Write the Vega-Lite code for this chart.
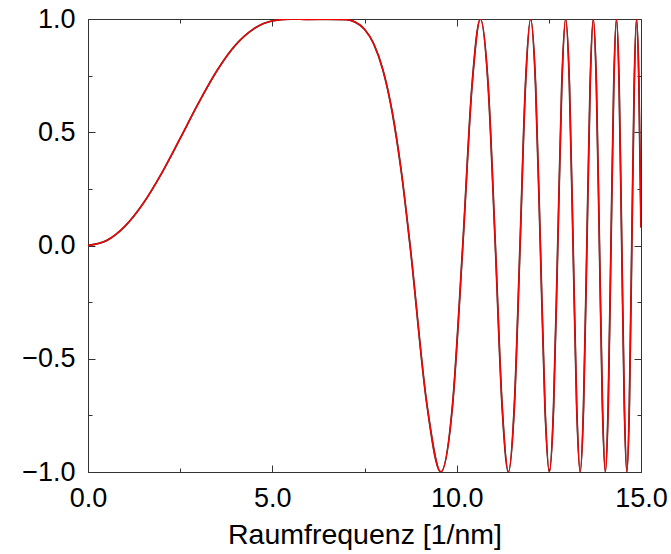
{
  "$schema": "https://vega.github.io/schema/vega-lite/v6.json",
  "width": 553,
  "height": 453,
  "autosize": {"type": "none"},
  "padding": {"left": 88, "top": 19, "right": 30, "bottom": 82},
  "background": "white",
  "config": {
    "view": {"stroke": null},
    "font": "Liberation Sans",
    "axis": {
      "grid": false,
      "domainColor": "#333333",
      "domainWidth": 1,
      "tickColor": "#333333",
      "tickWidth": 1,
      "labelFont": "Liberation Sans",
      "labelFontSize": 27,
      "labelColor": "black",
      "labelOverlap": false,
      "labelFlush": false,
      "labelBound": false,
      "titleFont": "Liberation Sans",
      "titleFontSize": 28.5,
      "titleFontWeight": "normal",
      "titleColor": "black"
    }
  },
  "data": {
    "values": [
      {"k": 0, "ctf": 0},
      {"k": 0.5, "ctf": 0.0214},
      {"k": 1, "ctf": 0.0846},
      {"k": 1.5, "ctf": 0.1863},
      {"k": 2, "ctf": 0.3196},
      {"k": 2.5, "ctf": 0.4728},
      {"k": 3, "ctf": 0.6296},
      {"k": 3.5, "ctf": 0.7723},
      {"k": 4, "ctf": 0.8845},
      {"k": 4.5, "ctf": 0.957},
      {"k": 5, "ctf": 0.9918},
      {"k": 5.5, "ctf": 1.0},
      {"k": 6, "ctf": 0.9981},
      {"k": 6.5, "ctf": 0.9989},
      {"k": 7, "ctf": 0.9979},
      {"k": 7.25, "ctf": 0.9862},
      {"k": 7.5, "ctf": 0.9549},
      {"k": 7.75, "ctf": 0.8905},
      {"k": 8, "ctf": 0.7748},
      {"k": 8.25, "ctf": 0.5906},
      {"k": 8.5, "ctf": 0.3245},
      {"k": 8.736, "ctf": 0},
      {"k": 9.197, "ctf": -0.7071},
      {"k": 9.569, "ctf": -1},
      {"k": 9.887, "ctf": -0.7071},
      {"k": 10.166, "ctf": 0},
      {"k": 10.417, "ctf": 0.7071},
      {"k": 10.644, "ctf": 1},
      {"k": 10.854, "ctf": 0.7071},
      {"k": 11.049, "ctf": 0},
      {"k": 11.232, "ctf": -0.7071},
      {"k": 11.403, "ctf": -1},
      {"k": 11.565, "ctf": -0.7071},
      {"k": 11.719, "ctf": 0},
      {"k": 11.866, "ctf": 0.7071},
      {"k": 12.006, "ctf": 1},
      {"k": 12.141, "ctf": 0.7071},
      {"k": 12.27, "ctf": 0},
      {"k": 12.394, "ctf": -0.7071},
      {"k": 12.514, "ctf": -1},
      {"k": 12.63, "ctf": -0.7071},
      {"k": 12.742, "ctf": 0},
      {"k": 12.851, "ctf": 0.7071},
      {"k": 12.956, "ctf": 1},
      {"k": 13.059, "ctf": 0.7071},
      {"k": 13.158, "ctf": 0},
      {"k": 13.255, "ctf": -0.7071},
      {"k": 13.35, "ctf": -1},
      {"k": 13.442, "ctf": -0.7071},
      {"k": 13.532, "ctf": 0},
      {"k": 13.62, "ctf": 0.7071},
      {"k": 13.706, "ctf": 1},
      {"k": 13.79, "ctf": 0.7071},
      {"k": 13.873, "ctf": 0},
      {"k": 13.954, "ctf": -0.7071},
      {"k": 14.033, "ctf": -1},
      {"k": 14.11, "ctf": -0.7071},
      {"k": 14.186, "ctf": 0},
      {"k": 14.261, "ctf": 0.7071},
      {"k": 14.335, "ctf": 1},
      {"k": 14.407, "ctf": 0.7071},
      {"k": 14.478, "ctf": 0},
      {"k": 14.548, "ctf": -0.7071},
      {"k": 14.616, "ctf": -1},
      {"k": 14.684, "ctf": -0.7071},
      {"k": 14.75, "ctf": 0},
      {"k": 14.816, "ctf": 0.7071},
      {"k": 14.88, "ctf": 1},
      {"k": 14.944, "ctf": 0.7071},
      {"k": 15, "ctf": 0.08}
    ]
  },
  "layer": [
    {
      "mark": {"type": "line", "color": "#303030", "strokeWidth": 1.8, "interpolate": "monotone", "clip": true},
      "encoding": {
        "x": {
          "field": "k",
          "type": "quantitative",
          "scale": {"domain": [0, 15], "nice": false, "zero": false},
          "axis": {
            "orient": "bottom",
            "values": [0, 2.5, 5, 7.5, 10, 12.5, 15],
            "tickSize": {"condition": {"test": "datum.value % 5 === 0", "value": -7}, "value": -4},
            "labelExpr": "datum.value % 5 === 0 ? format(datum.value, '.1f') : ''",
            "labelPadding": 20,
            "title": "Raumfrequenz [1/nm]",
            "titleY": 71,
            "titleBaseline": "alphabetic"
          }
        },
        "y": {
          "field": "ctf",
          "type": "quantitative",
          "scale": {"domain": [-1, 1], "nice": false, "zero": false},
          "axis": {
            "orient": "left",
            "values": [-1, -0.75, -0.5, -0.25, 0, 0.25, 0.5, 0.75, 1],
            "tickSize": {"condition": {"test": "abs(datum.value * 2 - round(datum.value * 2)) < 0.001", "value": -7}, "value": -4},
            "labelExpr": "abs(datum.value * 2 - round(datum.value * 2)) < 0.001 ? format(datum.value, '.1f') : ''",
            "labelPadding": 20,
            "title": null
          }
        }
      }
    },
    {
      "mark": {"type": "line", "color": "#ff0000", "strokeWidth": 1.4, "interpolate": "monotone", "clip": true},
      "encoding": {
        "x": {
          "field": "k",
          "type": "quantitative",
          "scale": {"domain": [0, 15], "nice": false, "zero": false},
          "axis": {
            "orient": "top",
            "values": [0, 2.5, 5, 7.5, 10, 12.5, 15],
            "tickSize": {"condition": {"test": "datum.value % 5 === 0", "value": -7}, "value": -4},
            "labels": false,
            "title": null
          }
        },
        "y": {
          "field": "ctf",
          "type": "quantitative",
          "scale": {"domain": [-1, 1], "nice": false, "zero": false},
          "axis": {
            "orient": "right",
            "values": [-1, -0.75, -0.5, -0.25, 0, 0.25, 0.5, 0.75, 1],
            "tickSize": {"condition": {"test": "abs(datum.value * 2 - round(datum.value * 2)) < 0.001", "value": -7}, "value": -4},
            "labels": false,
            "title": null
          }
        }
      }
    }
  ],
  "resolve": {"axis": {"x": "independent", "y": "independent"}}
}
